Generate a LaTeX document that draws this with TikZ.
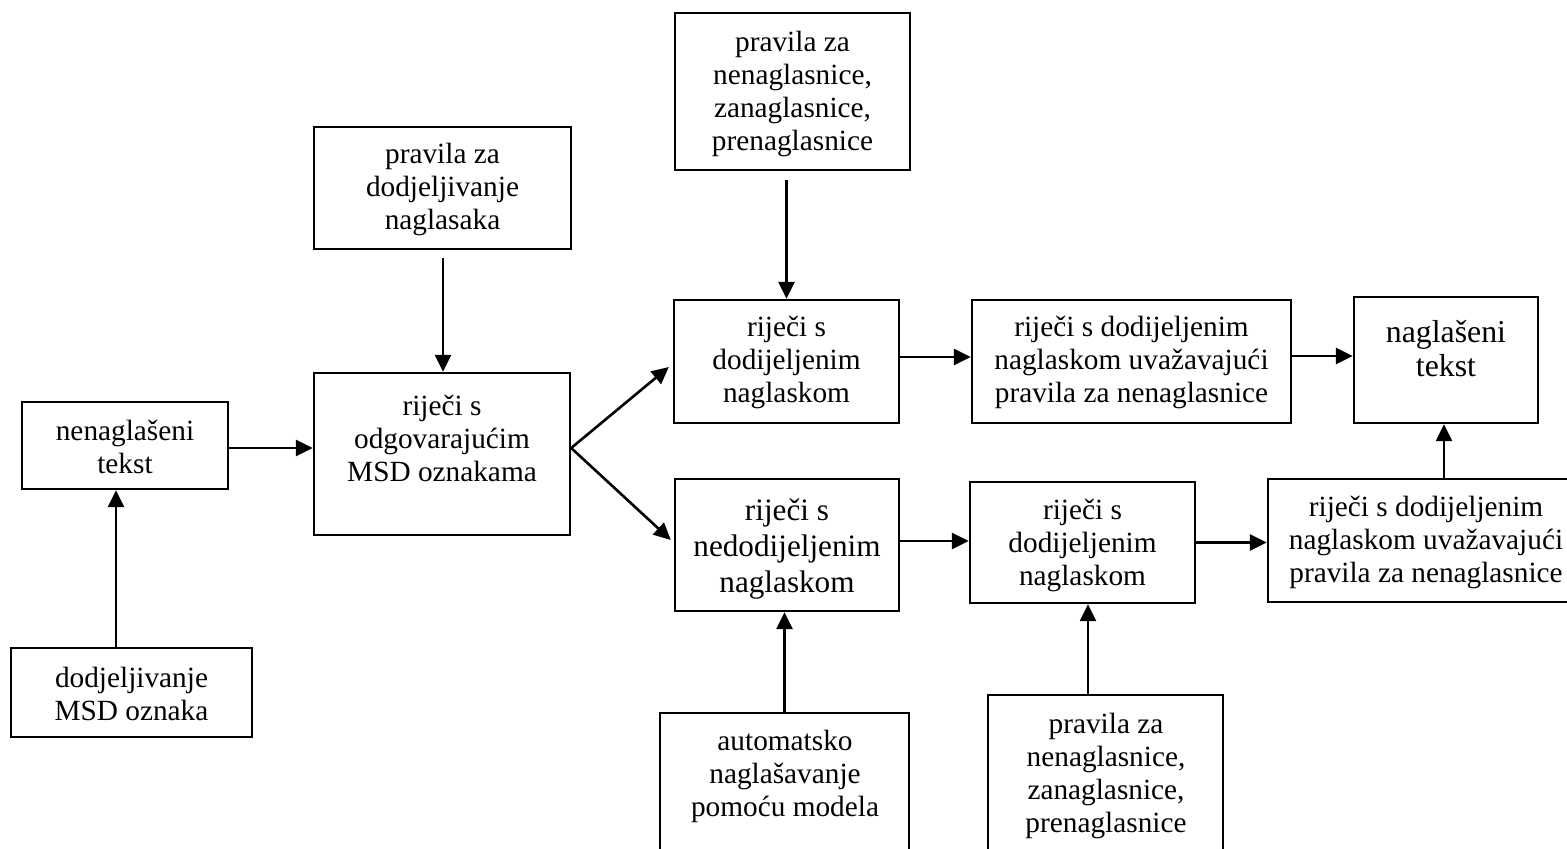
\documentclass[tikz,border=0pt]{standalone}
\usepackage{fontspec}
\setmainfont{Liberation Serif}
\usetikzlibrary{arrows.meta,fit,calc}
\begin{document}
\begin{tikzpicture}[x=0.5pt,y=-0.5pt,
  box/.style={draw, line width=1.2pt, inner sep=0pt, rectangle},
  txt/.style={align=center, inner sep=0pt, font=\fontsize{14.65pt}{16.5pt}\selectfont},
  bigtxt/.style={align=center, inner sep=0pt, font=\fontsize{15.6pt}{18pt}\selectfont},
  hugetxt/.style={align=center, inner sep=0pt, font=\fontsize{15.9pt}{17pt}\selectfont},
  arr/.style={line width=1.3pt, -{Triangle[length=8.5pt,width=8pt]}}]
\useasboundingbox (0,0) rectangle (1567,849);
\begin{scope}
\clip (0,0) rectangle (1567,849);
% boxes
\node[box, fit={(22,402)(228,489)}] (A) {};
\node[box, fit={(11,648)(252,737)}] (B) {};
\node[box, fit={(314,127)(571,249)}] (C) {};
\node[box, fit={(314,373)(570,535)}] (D) {};
\node[box, fit={(675,13)(910,170)}] (E) {};
\node[box, fit={(674,300)(899,423)}] (F) {};
\node[box, fit={(972,300)(1291,423)}] (G) {};
\node[box, fit={(1354,297)(1538,423)}] (H) {};
\node[box, fit={(675,479)(899,611)}] (I) {};
\node[box, fit={(970,482)(1195,603)}] (J) {};
\node[box, fit={(1268,479)(1590,602)}] (K) {};
\node[box, fit={(660,713)(909,870)}] (L) {};
\node[box, fit={(988,695)(1223,870)}] (M) {};
% texts
\node[txt] (At) at (125,446.5) {nenaglašeni\\tekst};
\node[txt] (Bt) at (131.5,693.5) {dodjeljivanje\\MSD oznaka};
\node[txt] (Ct) at (442.5,190) {pravila za\\dodjeljivanje\\naglasaka};
\node[txt] (Dt) at (442,438) {riječi s\\odgovarajućim\\MSD oznakama};
\node[txt] (Et) at (792.5,94) {pravila za\\nenaglasnice,\\zanaglasnice,\\prenaglasnice};
\node[txt] (Ft) at (786.5,362) {riječi s\\dodijeljenim\\naglaskom};
\node[txt] (Gt) at (1131.5,362) {riječi s dodijeljenim\\naglaskom uvažavajući\\pravila za nenaglasnice};
\node[hugetxt] (Ht) at (1446,349) {naglašeni\\tekst};
\node[bigtxt] (It) at (787,549) {riječi s\\nedodijeljenim\\naglaskom};
\node[txt] (Jt) at (1082.5,545) {riječi s\\dodijeljenim\\naglaskom};
\node[txt] (Kt) at (1426,542) {riječi s dodijeljenim\\naglaskom uvažavajući\\pravila za nenaglasnice};
\node[txt] (Lt) at (785,776.5) {automatsko\\naglašavanje\\pomoću modela};
\node[txt] (Mt) at (1106,776) {pravila za\\nenaglasnice,\\zanaglasnice,\\prenaglasnice};
\end{scope}
% connectors
\draw[arr] ($(A.south |- B.north)+(-9,0)$) -- ($(A.south)+(-9,0)$);
\draw[arr] ($(A.east)+(0,2.5)$) -- ($(A.east -| D.west)+(0,2.5)$);
\draw[arr] ($(D.north |- C.south)+(1,8)$) -- ($(D.north)+(1,0)$);
\draw[arr] ($(D.east)+(0,-6)$) -- ($(F.west)+(-4,5.5)$);
\draw[arr] ($(D.east)+(0,-6)$) -- ($(I.west)+(-3,-5)$);
\draw[arr] ($(F.north |- E.south)+(0,9)$) -- (F.north);
\draw[arr] ($(F.east)+(0,-4.5)$) -- ($(F.east -| G.west)+(0,-4.5)$);
\draw[arr] ($(G.east)+(0,-5.5)$) -- ($(G.east -| H.west)+(0,-5.5)$);
\draw[arr] ($(I.east)+(0,-4)$) -- ($(I.east -| J.west)+(0,-4)$);
\draw[arr] (J.east) -- (J.east -| K.west);
\draw[arr] ($(H.south |- K.north)+(-2,0)$) -- ($(H.south)+(-2,0)$);
\draw[arr] (L.north) -- (L.north |- I.south);
\draw[arr] ($(J.south |- M.north)+(5.5,0)$) -- ($(J.south)+(5.5,0)$);
\end{tikzpicture}
\end{document}
